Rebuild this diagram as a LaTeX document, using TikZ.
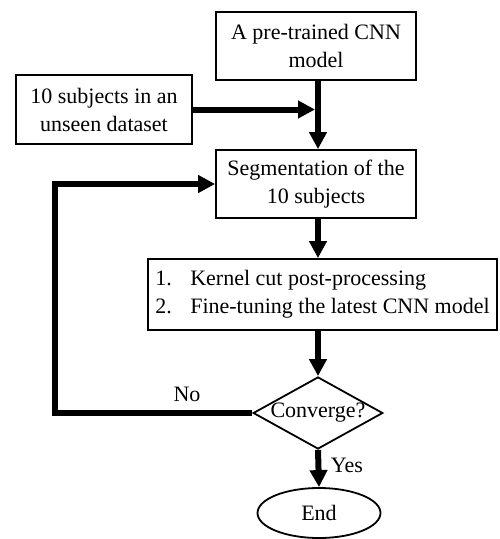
\documentclass[tikz,border=0pt]{standalone}
\usepackage{fontspec}
\setmainfont{Liberation Serif}
\usetikzlibrary{arrows.meta, positioning, shapes.geometric}

\begin{document}
\begin{tikzpicture}[x=1pt, y=-1pt, font=\fontsize{22}{28}\selectfont,
  boite/.style={draw, line width=1.8pt, align=center, inner sep=0pt},
  fleche/.style={line width=6pt, -{Triangle[length=17pt, width=17pt]}}]
  \useasboundingbox (0,0) rectangle (499,539);
  % Entrees (modele et donnees)
  \node[boite, minimum width=200pt, minimum height=68pt] (modele) at (316,46) {A pre-trained CNN\\model};
  \node[boite, minimum width=176pt, minimum height=69pt] (donnees) at (104,109.5) {10 subjects in an\\unseen dataset};
  % Segmentation
  \node[boite, minimum width=200pt, minimum height=68pt] (seg) at (316,184) {Segmentation of the\\10 subjects};
  % Post-traitement et reglage fin
  \node[boite, align=left, minimum width=349pt, minimum height=71pt] (etapes) at (322.5,294.5)
    {\makebox[35pt][l]{1.}Kernel cut post-processing\\\makebox[35pt][l]{2.}Fine-tuning the latest CNN model};
  % Test de convergence et fin
  \node[draw, diamond, aspect=1.8, inner sep=0pt, line width=1.8pt] (conv) at (318,413) {Converge?};
  \node[draw, ellipse, minimum width=123pt, minimum height=50pt, inner sep=0pt, line width=1.8pt] (fin) at (319,513) {End};
  \coordinate (boucle) at (55,300);
  % Fleches
  \draw[fleche] (modele.south -| conv) -- (seg.north -| conv);
  \draw[fleche, shorten >=3pt] (donnees.east) -- (donnees.east -| conv);
  \draw[fleche] (seg.south -| conv) -- (etapes.north -| conv);
  \draw[fleche] (etapes.south -| conv) -- (conv.north);
  \draw[fleche] (conv.south) -- (fin.north);
  \draw[fleche] (conv.west) -- (conv.west -| boucle) |- (seg.west);
  % Etiquettes
  \node (non) at (187,394) {No};
  \node (oui) at (347,465) {Yes};
\end{tikzpicture}
\end{document}
